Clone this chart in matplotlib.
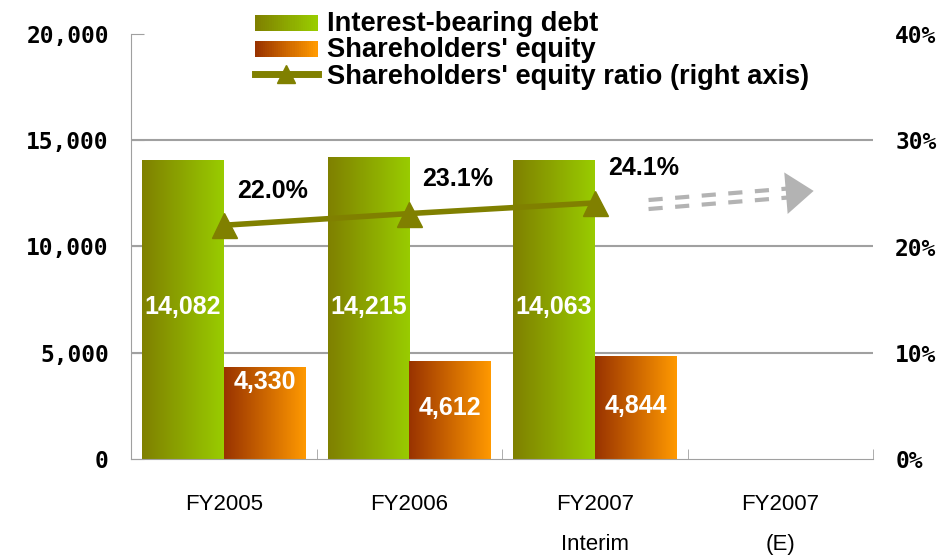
import matplotlib
matplotlib.use("Agg")
import matplotlib.pyplot as plt
import numpy as np
from matplotlib.colors import LinearSegmentedColormap
from matplotlib.patches import Rectangle
from matplotlib.lines import Line2D
from matplotlib.legend_handler import HandlerBase
from matplotlib.transforms import offset_copy

categories = ["FY2005", "FY2006", "FY2007\nInterim", "FY2007\n(E)"]
debt = [14082, 14215, 14063]
equity = [4330, 4612, 4844]
ratio = [22.0, 23.1, 24.1]
debt_labels = ["14,082", "14,215", "14,063"]
equity_labels = ["4,330", "4,612", "4,844"]
ratio_labels = ["22.0%", "23.1%", "24.1%"]
equity_label_drop = [-11, -34, -36]   # points below bar top

green_cmap = LinearSegmentedColormap.from_list("g", ["#7f8000", "#99cc00"])
orange_cmap = LinearSegmentedColormap.from_list("o", ["#993300", "#ff9900"])
olive = "#808000"
grid_c = "#a0a0a0"

plt.rcParams["font.family"] = ["Liberation Sans", "DejaVu Sans"]

fig = plt.figure(figsize=(9.47, 5.58), dpi=100)
ax = fig.add_axes([131 / 947, 99 / 558, 742 / 947, 425 / 558])
ax2 = ax.twinx()

x = np.arange(len(categories))
w = 0.44
grad = np.linspace(0, 1, 256).reshape(1, -1)


def gradient_bars(xs, vals, cmap):
    bars = ax.bar(xs, vals, w, color="none", edgecolor="none", zorder=2)
    for b in bars:
        im = ax.imshow(grad, cmap=cmap, aspect="auto", interpolation="bicubic",
                       extent=[b.get_x(), b.get_x() + b.get_width(), 0, b.get_height()],
                       zorder=2)
        im.set_clip_path(b)
    return bars


n = len(debt)
gradient_bars(x[:n] - w / 2, debt, green_cmap)
gradient_bars(x[:n] + w / 2, equity, orange_cmap)

for i in range(n):
    ax.text(x[i] - w / 2, 7150, debt_labels[i], color="white", fontsize=18,
            fontweight="bold", ha="center", va="center", zorder=3)
    ax.annotate(equity_labels[i], (x[i] + w / 2, equity[i]),
                xytext=(0, equity_label_drop[i]), textcoords="offset points",
                color="white", fontsize=18, fontweight="bold",
                ha="center", va="center", zorder=3)

ax.set_xlim(-0.5, len(categories) - 0.5)
ax.set_ylim(0, 20000)
ax.set_yticks([0, 5000, 10000, 15000, 20000])
ax.set_yticklabels(["0", "5,000", "10,000", "15,000", "20,000"],
                   family="DejaVu Sans Mono", fontweight="bold", fontsize=16.5)
for yv in [5000, 10000, 15000]:
    ax.axhline(yv, color=grid_c, lw=1.5, zorder=1)
ax.tick_params(axis="y", direction="in", length=9, color=grid_c, pad=16)
ax.set_xticks(x)
ax.set_xticklabels(categories, fontsize=16, linespacing=2.2)
ax.tick_params(axis="x", length=0, pad=25)
ax.set_xticks(np.arange(-0.5, len(categories)), minor=True)
ax.tick_params(axis="x", which="minor", direction="in", length=7, color=grid_c)
for s in ["top", "right"]:
    ax.spines[s].set_visible(False)
for s in ["left", "bottom"]:
    ax.spines[s].set_color(grid_c)

# ratio line on right axis
ax2.plot(x[:n], ratio, color=olive, lw=4, marker="^", markersize=18, zorder=4)
for i in range(n):
    ax2.annotate(ratio_labels[i], (x[i], ratio[i]), xytext=(35, 25),
                 textcoords="offset points", fontsize=18, fontweight="bold",
                 ha="center", va="center")
ax2.set_ylim(0, 40)
ax2.set_yticks([0, 10, 20, 30, 40])
ax2.set_yticklabels(["0%", "10%", "20%", "30%", "40%"],
                    family="DejaVu Sans Mono", fontweight="bold", fontsize=16.5)
ax2.tick_params(axis="y", length=0, pad=16)
for s in ["top", "right", "left", "bottom"]:
    ax2.spines[s].set_visible(False)

# forecast arrow (dashed double line)
arrow_x = [2.29, 3.04]
arrow_y = [23.95, 25.03]
tip = (3.18, 25.23)
for dy in (4.5, -4.5):
    tr = offset_copy(ax2.transData, fig=fig, x=0, y=dy, units="dots")
    ax2.plot(arrow_x, arrow_y, color="#b3b3b3", lw=3, transform=tr,
             dashes=(3.4, 3.0), solid_capstyle="butt", dash_capstyle="butt")
ax2.annotate("", xy=tip, xytext=(arrow_x[1], arrow_y[1]),
             arrowprops=dict(arrowstyle="-|>,head_length=20,head_width=15",
                             mutation_scale=1, color="#b3b3b3", lw=0,
                             shrinkA=0, shrinkB=0))


class GradHandler(HandlerBase):
    def __init__(self, cmap):
        super().__init__()
        self.cmap = cmap

    def create_artists(self, legend, orig, xd, yd, width, height, fontsize, trans):
        k = 30
        arts = []
        for j in range(k):
            r = Rectangle((xd + width * j / k, yd), width / k + 0.3, height - 2,
                          facecolor=self.cmap(j / (k - 1)), edgecolor="none",
                          transform=trans)
            arts.append(r)
        return arts


h_debt = Rectangle((0, 0), 1, 1)
h_eq = Rectangle((0, 0), 1, 1)
h_line = Line2D([], [], color=olive, lw=5, marker="^", markersize=13)
fig.legend([h_debt, h_eq, h_line],
           ["Interest-bearing debt", "Shareholders' equity",
            "Shareholders' equity ratio (right axis)"],
           handler_map={h_debt: GradHandler(green_cmap), h_eq: GradHandler(orange_cmap)},
           loc="upper left", bbox_to_anchor=(244 / 947, 1.0), frameon=False,
           prop={"weight": "bold", "size": 19.6}, handlelength=2.3,
           handletextpad=0.36, labelspacing=0.02, borderaxespad=0)

fig.savefig("out.png", dpi=100)
